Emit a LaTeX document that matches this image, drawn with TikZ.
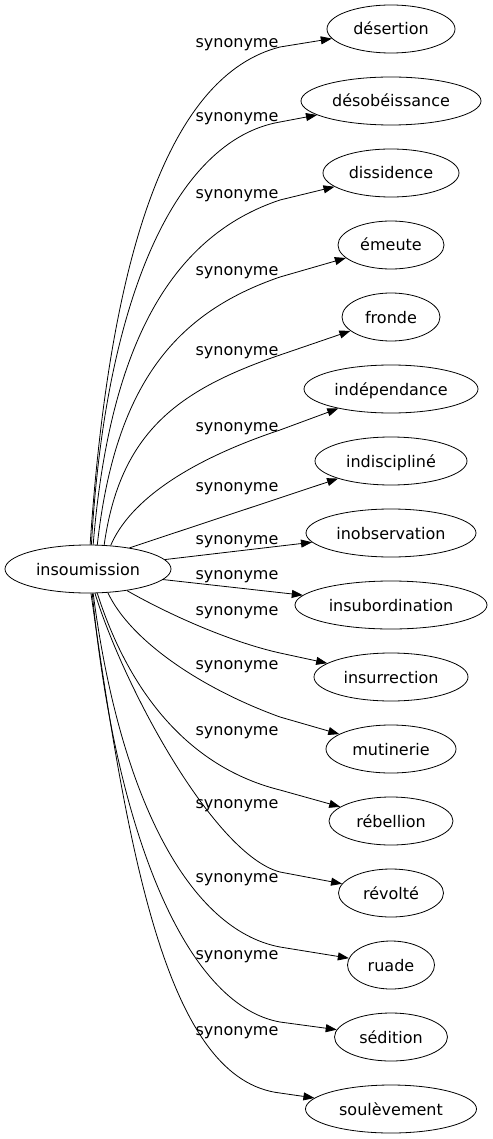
\documentclass[tikz,border=0pt]{standalone}
\usepackage{fontspec}
\setmainfont{DejaVu Sans}
\usetikzlibrary{shapes.geometric,arrows.meta}
\begin{document}
\begin{tikzpicture}[x=1pt,y=-1pt,
  every node/.style={font=\fontsize{16}{19}\selectfont, text height=14pt, text depth=2pt},
  word/.style={ellipse, draw, line width=0.8pt, minimum height=48pt, inner sep=0pt},
  lbl/.style={inner sep=0pt},
  syn/.style={draw, line width=0.8pt, -{Triangle[length=11pt,width=8pt]}},
]
\useasboundingbox (0,0) rectangle (492,1139);
\node[word, minimum width=166pt] (src) at (88,569) {insoumission};

\node[word, minimum width=128pt] (t1) at (391,29) {désertion};
\node[word, minimum width=180pt] (t2) at (391,101) {désobéissance};
\node[word, minimum width=136pt] (t3) at (391,173) {dissidence};
\node[word, minimum width=106pt] (t4) at (391,245) {émeute};
\node[word, minimum width=98pt] (t5) at (391,317) {fronde};
\node[word, minimum width=174pt] (t6) at (391,389) {indépendance};
\node[word, minimum width=152pt] (t7) at (391,461) {indiscipliné};
\node[word, minimum width=170pt] (t8) at (391,533) {inobservation};
\node[word, minimum width=192pt] (t9) at (391,605) {insubordination};
\node[word, minimum width=154pt] (t10) at (391,677) {insurrection};
\node[word, minimum width=130pt] (t11) at (391,749) {mutinerie};
\node[word, minimum width=124pt] (t12) at (391,821) {rébellion};
\node[word, minimum width=105pt] (t13) at (391,893) {révolté};
\node[word, minimum width=87pt] (t14) at (391,965) {ruade};
\node[word, minimum width=113pt] (t15) at (391,1037) {sédition};
\node[word, minimum width=171pt] (t16) at (391,1109) {soulèvement};

\draw[syn] (src.85) .. controls (110,250) and (170,75) .. (280,47) -- (t1);
\draw[syn] (src.82) .. controls (105,300) and (175,140) .. (280,122) -- (t2);
\draw[syn] (src.78) .. controls (110,338) and (175,235) .. (280,200) -- (t3);
\draw[syn] (src.69) .. controls (115,385) and (175,313) .. (280,277) -- (t4);
\draw[syn] (src.56) .. controls (120,432) and (178,390) .. (280,355) -- (t5);
\draw[syn] (src.46) .. controls (130,500) and (190,460) .. (280,430) -- (t6);
\draw[syn] (src.27) -- (t7);
\draw[syn] (src.7) -- (t8);
\draw[syn] (src.-8) -- (t9);
\draw[syn] (src.-29) .. controls (175,618) and (235,643) .. (280,653) -- (t10);
\draw[syn] (src.-50) .. controls (130,640) and (200,688) .. (280,717) -- (t11);
\draw[syn] (src.-69) .. controls (125,680) and (180,765) .. (280,790) -- (t12);
\draw[syn] (src.-74) .. controls (125,690) and (215,855) .. (280,872) -- (t13);
\draw[syn] (src.-78) .. controls (120,800) and (190,930) .. (280,947) -- (t14);
\draw[syn] (src.-80) .. controls (115,830) and (185,1005) .. (280,1022) -- (t15);
\draw[syn] (src.-83) .. controls (130,870) and (170,1080) .. (280,1093) -- (t16);

\node[lbl] (l1) at (237,42) {synonyme};
\node[lbl] (l2) at (237,116) {synonyme};
\node[lbl] (l3) at (237,193) {synonyme};
\node[lbl] (l4) at (237,270) {synonyme};
\node[lbl] (l5) at (237,349) {synonyme};
\node[lbl] (l6) at (237,425) {synonyme};
\node[lbl] (l7) at (237,485) {synonyme};
\node[lbl] (l8) at (237,538) {synonyme};
\node[lbl] (l9) at (237,573) {synonyme};
\node[lbl] (l10) at (237,609) {synonyme};
\node[lbl] (l11) at (237,663) {synonyme};
\node[lbl] (l12) at (237,729) {synonyme};
\node[lbl] (l13) at (237,802) {synonyme};
\node[lbl] (l14) at (237,876) {synonyme};
\node[lbl] (l15) at (237,953) {synonyme};
\node[lbl] (l16) at (237,1029) {synonyme};
\end{tikzpicture}
\end{document}
